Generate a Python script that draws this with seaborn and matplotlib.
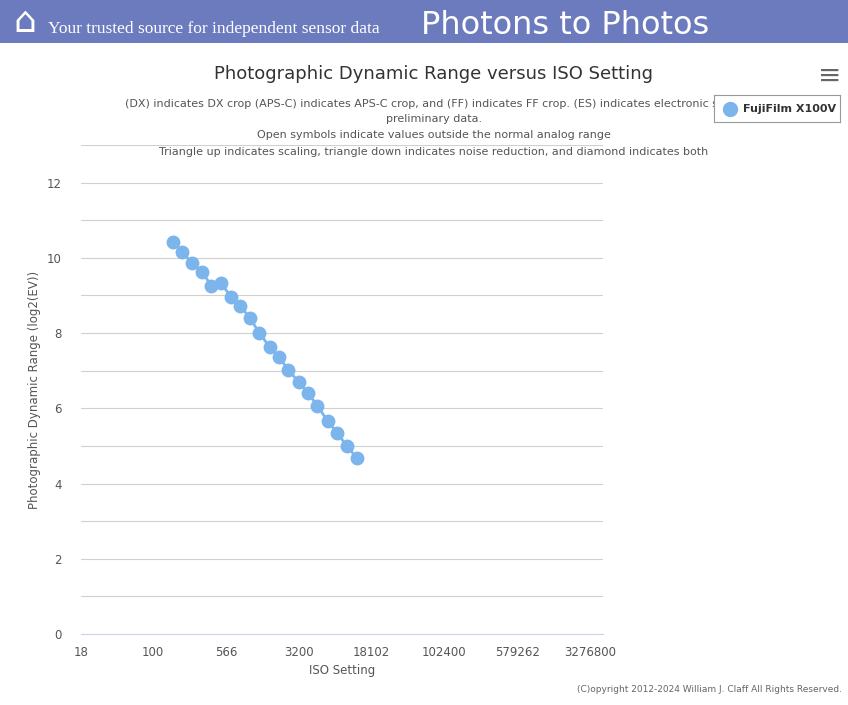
import matplotlib
matplotlib.use("Agg")
import matplotlib.pyplot as plt
import seaborn as sns
import pandas as pd
import numpy as np

iso = [160,200,250,320,400,500,640,800,1000,1250,1600,2000,2500,3200,4000,5000,6400,8000,10000,12800]
pdr = [10.43,10.16,9.87,9.63,9.26,9.34,8.96,8.72,8.40,8.01,7.63,7.37,7.02,6.70,6.41,6.06,5.66,5.35,5.00,4.68]
xticks = [18,100,566,3200,18102,102400,579262,3276800]
series = "FujiFilm X100V"
df = pd.DataFrame({"ISO": iso, "PDR": pdr, "cam": series})

sns.set_style("white")
plt.rcParams['font.family'] = ['DejaVu Sans']
W, H = 848, 705
fig = plt.figure(figsize=(W/100, H/100), dpi=100)
# header
hdr = fig.add_axes([0, 1-43/H, 1, 43/H])
hdr.set_facecolor("#6b7bbd"); hdr.set_xticks([]); hdr.set_yticks([])
for s in hdr.spines.values(): s.set_visible(False)
fig.text(48/W, 1-29/H, "Your trusted source for independent sensor data", color="white",
         fontsize=12.5, family="Liberation Serif", va="center")
fig.text(565/W, 1-25/H, "Photons to Photos", color="white", fontsize=23, ha="center", va="center")
fig.text(25/W, 1-22/H, "⌂", color="white", fontsize=26, ha="center", va="center")

ax = fig.add_axes([81/W, 1-634/H, (603-81)/W, (634-145)/H])
color = "#7cb5ec"
sns.lineplot(data=df, x="ISO", y="PDR", ax=ax, color=color, lw=2, marker="o",
             markersize=10, markeredgewidth=0, legend=False)
ax.set_xscale("log")
ax.set_xlim(18, 18 * (3276800/18) ** (522/509))
ax.set_ylim(0, 13)
ax.set_xticks(xticks); ax.set_xticklabels([str(t) for t in xticks])
ax.minorticks_off()
ax.set_yticks(range(0, 14)); ax.set_yticklabels([str(v) if v % 2 == 0 else "" for v in range(14)])
ax.tick_params(axis="y", length=0, labelsize=8.5, colors="#555555", pad=14)
ax.tick_params(axis="x", length=5, labelsize=8.5, colors="#555555", color="#ccd6eb")
ax.grid(axis="y", color="#d0d0d0", lw=0.8)
for s in ["top", "right", "left"]: ax.spines[s].set_visible(False)
ax.spines["bottom"].set_color("#ccd6eb")
ax.set_xlabel("ISO Setting", fontsize=8.5, color="#555555")
ax.set_ylabel("Photographic Dynamic Range (log2(EV))", fontsize=8.5, color="#555555")

fig.text(434/W, 1-74/H, "Photographic Dynamic Range versus ISO Setting", ha="center", va="center", fontsize=13, color="#333333")
subs = ["(DX) indicates DX crop (APS-C) indicates APS-C crop, and (FF) indicates FF crop. (ES) indicates electronic shutter.",
        "preliminary data.", "Open symbols indicate values outside the normal analog range",
        "Triangle up indicates scaling, triangle down indicates noise reduction, and diamond indicates both"]
ys = [104, 119, 135, 152]
for i, (t, y) in enumerate(zip(subs, ys)):
    fig.text((440 if i == 0 else 434)/W, 1-y/H, t, ha="center", va="center", fontsize=8, color="#555555", zorder=1)
# legend box
lg = fig.add_axes([714/W, 1-122/H, 126/W, 27/H])
lg.set_zorder(5)
lg.set_facecolor("white")
lg.set_xticks([]); lg.set_yticks([]); lg.set_xlim(0, 1); lg.set_ylim(0, 1)
for s in lg.spines.values(): s.set_color("#999999")
lg.plot([0.13], [0.5], "o", color=color, markersize=10)
lg.text(0.23, 0.5, series, va="center", fontsize=8, fontweight="bold", color="#333333")
fig.text(830/W, 1-76/H, "≡", ha="center", va="center", fontsize=20, color="#666666")
fig.text(842/W, 1-689/H, "(C)opyright 2012-2024 William J. Claff All Rights Reserved.", ha="right",
         va="center", fontsize=6.5, color="#666666")
fig.savefig("out.png", dpi=100)
